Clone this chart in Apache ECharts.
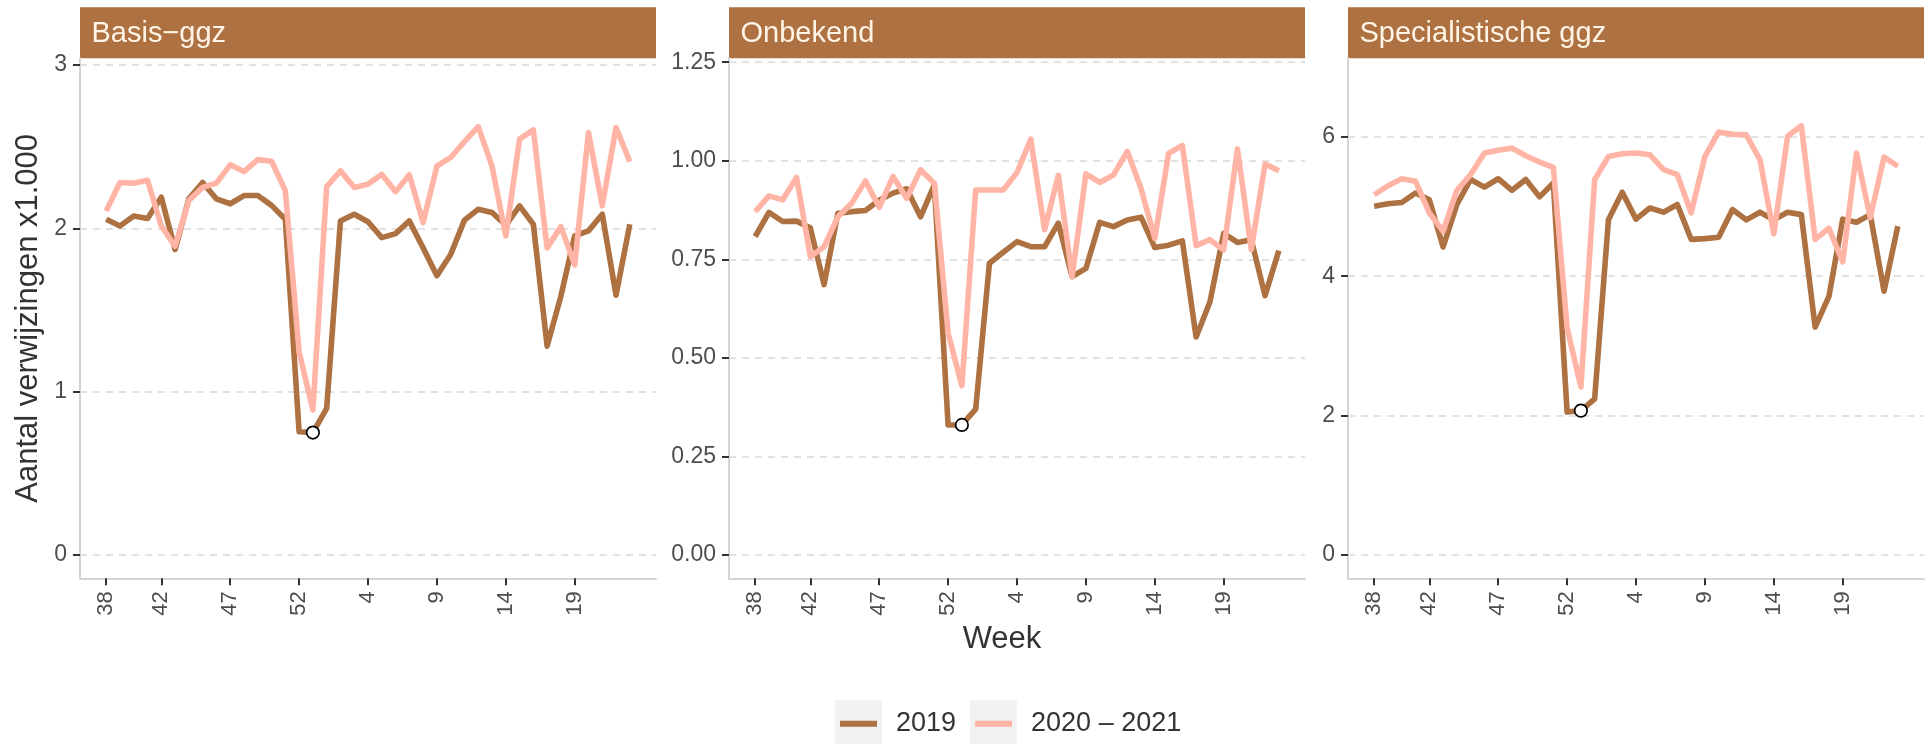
<!DOCTYPE html>
<html>
<head>
<meta charset="utf-8">
<script src="https://cdn.jsdelivr.net/npm/echarts@6/dist/echarts.min.js"></script>
<style>
html,body{margin:0;padding:0;background:#ffffff;}
#c{width:1930px;height:744px;}
</style>
</head>
<body>
<div id="c"></div>
<script>
// ---------- data ----------
const weeks = [38,39,40,41,42,43,44,45,46,47,48,49,50,51,52,53,1,2,3,4,5,6,7,8,9,10,11,12,13,14,15,16,17,18,19,20,21,22,23];
const panelTitles = ['Basis\u2212ggz', 'Onbekend', 'Specialistische ggz'];
const seriesNames = ['2019', '2020 \u2013 2021'];

const basis2019 = [2.055,2.014,2.075,2.06,2.19,1.87,2.18,2.28,2.18,2.15,2.2,2.2,2.14,2.055,0.755,0.75,0.898,2.045,2.086,2.04,1.943,1.967,2.045,1.88,1.71,1.84,2.05,2.116,2.096,2.018,2.137,2.024,1.279,1.586,1.953,1.984,2.086,1.59,2.024];
const basis2020 = [2.106,2.28,2.276,2.294,2.014,1.89,2.17,2.25,2.276,2.388,2.347,2.42,2.41,2.23,1.244,0.888,2.255,2.351,2.25,2.27,2.33,2.224,2.327,2.035,2.38,2.433,2.53,2.622,2.38,1.953,2.545,2.602,1.88,2.01,1.776,2.586,2.137,2.616,2.408];
const onbekend2019 = [0.808,0.869,0.846,0.847,0.83,0.686,0.867,0.871,0.874,0.90,0.918,0.929,0.858,0.939,0.33,0.33,0.37,0.74,0.768,0.795,0.782,0.782,0.842,0.706,0.727,0.844,0.833,0.85,0.857,0.78,0.786,0.797,0.553,0.642,0.816,0.793,0.80,0.658,0.772];
const onbekend2020 = [0.871,0.911,0.901,0.958,0.757,0.782,0.858,0.892,0.949,0.882,0.96,0.905,0.977,0.943,0.563,0.429,0.926,0.926,0.926,0.97,1.055,0.825,0.963,0.706,0.967,0.945,0.964,1.024,0.93,0.803,1.019,1.039,0.785,0.80,0.774,1.03,0.775,0.992,0.975];
const spec2019 = [5.005,5.04,5.06,5.196,5.10,4.42,5.03,5.39,5.28,5.40,5.234,5.39,5.14,5.34,2.05,2.07,2.24,4.81,5.206,4.82,4.98,4.92,5.03,4.53,4.54,4.56,4.957,4.81,4.92,4.81,4.92,4.885,3.27,3.71,4.82,4.775,4.885,3.785,4.72];
const spec2020 = [5.17,5.30,5.40,5.364,4.91,4.646,5.234,5.46,5.77,5.81,5.84,5.73,5.64,5.565,3.26,2.41,5.39,5.72,5.76,5.77,5.746,5.53,5.46,4.91,5.72,6.07,6.04,6.03,5.67,4.61,6.01,6.16,4.53,4.69,4.206,5.77,4.84,5.71,5.58];

const xTickIndex = [1,5,10,15,20,25,30,35];
const yTicksBasis = [0,1,2,3];
const yTicksOnbekend = [0,0.25,0.5,0.75,1,1.25];
const yTicksSpec = [0,2,4,6];
const markedIndex = 16; // week 53, open circle on 2019 line

// ---------- layout / style ----------
const FONT = '"Liberation Sans", Arial, Helvetica, sans-serif';
const BROWN = '#AD7142';
const PINK = '#FFB4A6';
const LINE_W = 5.6;
const panelLeft = [80, 729, 1348];
const panelWidth = 576;
const panelTop = 58.3;
const panelHeight = 520;
const yRanges = [[-0.142, 3.04], [-0.059, 1.26], [-0.338, 7.13]];
const yDecimals = [0, 2, 0];
const yTicks = [yTicksBasis, yTicksOnbekend, yTicksSpec];
const data2019 = [basis2019, onbekend2019, spec2019];
const data2020 = [basis2020, onbekend2020, spec2020];

const toPairs = arr => arr.map((v, i) => [i + 1, v]);

const grids = [], xAxes = [], yAxes = [], series = [], graphics = [];
for (let p = 0; p < 3; p++) {
  grids.push({left: panelLeft[p], top: panelTop, width: panelWidth, height: panelHeight});
  xAxes.push({
    type: 'value', gridIndex: p, min: -0.9, max: 40.9,
    axisLine: {show: true, onZero: false, lineStyle: {color: '#D4D4D4', width: 2}},
    axisTick: {show: true, customValues: xTickIndex, length: 7, lineStyle: {color: '#333333', width: 2}},
    axisLabel: {customValues: xTickIndex, rotate: 90, margin: 13, fontSize: 22, color: '#4D4D4D', fontFamily: FONT,
                formatter: v => String(weeks[Math.round(v) - 1])},
    splitLine: {show: false}
  });
  const dec = yDecimals[p];
  const ya = {
    type: 'value', gridIndex: p, min: yRanges[p][0], max: yRanges[p][1],
    axisLine: {show: true, onZero: false, lineStyle: {color: '#D4D4D4', width: 2}},
    axisTick: {show: true, customValues: yTicks[p], length: 7, lineStyle: {color: '#333333', width: 2}},
    axisLabel: {customValues: yTicks[p], margin: 13, fontSize: 23, color: '#4D4D4D', fontFamily: FONT,
                formatter: v => Number(v).toFixed(dec)},
    splitLine: {show: true, lineStyle: {color: '#D9D9D9', width: 1.5, type: [7, 6]}}
  };
  if (p === 0) {
    ya.name = 'Aantal verwijzingen x1.000';
    ya.nameLocation = 'middle';
    ya.nameGap = 36;
    ya.nameTextStyle = {fontSize: 31, color: '#333333', fontFamily: FONT};
  }
  yAxes.push(ya);

  series.push({
    type: 'line', name: seriesNames[0], xAxisIndex: p, yAxisIndex: p,
    data: toPairs(data2019[p]), showSymbol: false, symbol: 'none',
    itemStyle: {color: BROWN}, lineStyle: {color: BROWN, width: LINE_W, join: 'round', cap: 'butt'},
    z: 2
  });
  series.push({
    type: 'line', name: seriesNames[1], xAxisIndex: p, yAxisIndex: p,
    data: toPairs(data2020[p]), showSymbol: false, symbol: 'none',
    itemStyle: {color: PINK}, lineStyle: {color: PINK, width: LINE_W, join: 'round', cap: 'butt'},
    z: 3
  });
  series.push({
    type: 'scatter', name: 'marker', xAxisIndex: p, yAxisIndex: p,
    data: [[markedIndex, data2019[p][markedIndex - 1]]],
    symbol: 'circle', symbolSize: 12.5,
    itemStyle: {color: '#ffffff', borderColor: '#000000', borderWidth: 1.7, opacity: 1},
    z: 5
  });

  graphics.push({
    type: 'rect', shape: {x: panelLeft[p], y: 7.3, width: panelWidth, height: 51},
    style: {fill: BROWN}, silent: true
  });
  graphics.push({
    type: 'text', x: panelLeft[p] + 11.5, y: 33.5,
    style: {text: panelTitles[p], fill: '#FFF4E6', fontSize: 29, fontFamily: FONT,
            verticalAlign: 'middle', align: 'left'}, silent: true
  });
}

// x-axis title (shared)
graphics.push({
  type: 'text', x: 1002, y: 639,
  style: {text: 'Week', fill: '#333333', fontSize: 31, fontFamily: FONT, align: 'center', verticalAlign: 'middle'},
  silent: true
});
// legend key backgrounds
graphics.push({type: 'rect', shape: {x: 835, y: 700, width: 47, height: 44}, style: {fill: '#F2F2F2'}, silent: true, z: -1});
graphics.push({type: 'rect', shape: {x: 970, y: 700, width: 47, height: 44}, style: {fill: '#F2F2F2'}, silent: true, z: -1});

const option = {
  animation: false,
  backgroundColor: '#ffffff',
  grid: grids,
  xAxis: xAxes,
  yAxis: yAxes,
  series: series,
  legend: {
    data: seriesNames,
    left: 840, top: 708.7, padding: 0,
    icon: 'rect', itemWidth: 37, itemHeight: 6, itemGap: 19,
    selectedMode: false,
    textStyle: {fontSize: 27, color: '#333333', fontFamily: FONT, padding: [0, 0, 0, 14], lineHeight: 30}
  },
  graphic: graphics
};

const chart = echarts.init(document.getElementById('c'), null, {renderer: 'canvas'});
chart.setOption(option);
</script>
</body>
</html>
